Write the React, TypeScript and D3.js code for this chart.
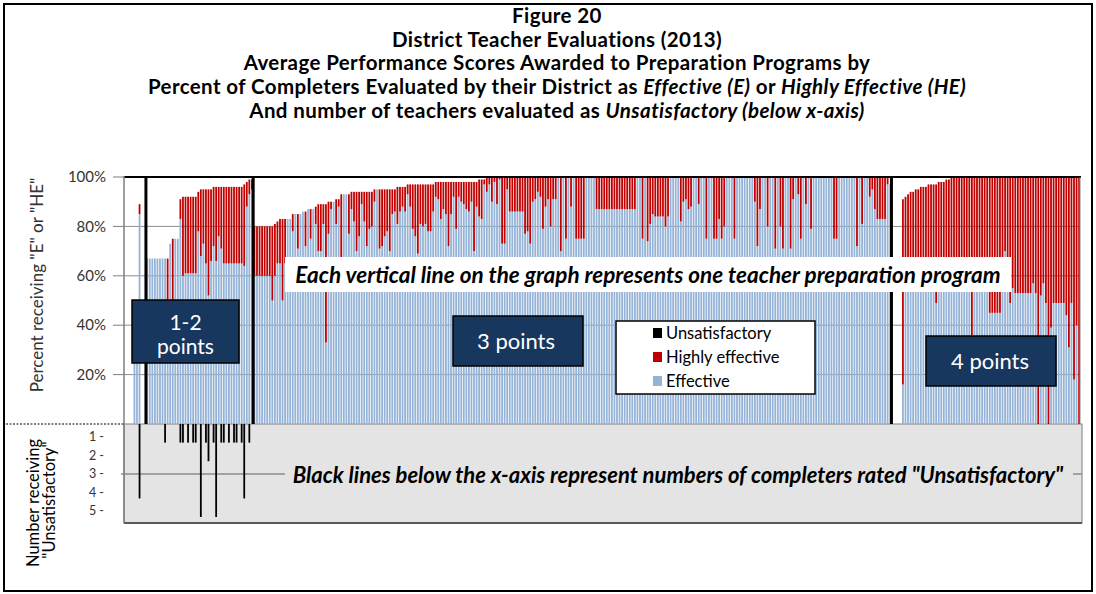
import React from 'react'
import * as d3 from 'd3'

// bars before the first separator
const preEffective = [0, 40, 40, 85, 0, 0]
const preHighly = [0, 0, 0, 4, 0, 0]
const preUnsat = [0, 0, 0, 4, 0, 0]

// 1-2 points
const effective12 = [67, 67, 67, 67, 67, 67, 67, 67, 40, 73, 45, 75, 75, 83, 60, 61, 61, 61, 61, 61,
  78, 68, 73, 65, 52, 66, 72, 66, 76, 71, 65, 65, 65, 65, 65, 65, 65, 65, 64, 88, 93, 95]
const highly12 = [0, 0, 0, 0, 0, 0, 0, 0, 27, 0, 30, 0, 0, 8, 32, 31, 31, 31, 31, 31,
  16, 27, 22, 30, 43, 29, 24, 30, 20, 25, 31, 31, 31, 31, 31, 31, 31, 31, 33, 10, 6, 4]
const unsat12 = [0, 0, 0, 0, 0, 0, 0, 1, 0, 0, 0, 0, 0, 1, 1, 0, 1, 0, 1, 1,
  0, 5, 0, 1, 2, 0, 1, 5, 0, 1, 1, 0, 1, 0, 1, 1, 0, 1, 4, 0, 1, 0]

// 3 points
const effective3 = [
  60, 60, 60, 60, 60, 60, 60, 50, 60, 65,
  65, 50, 65, 83, 83, 78, 85, 71, 85, 86,
  72, 87, 75, 87, 81, 70, 70, 81, 33, 77,
  87, 90, 81, 88, 67, 93, 93, 77, 87, 82,
  70, 76, 89, 82, 72, 79, 80, 90, 95, 71,
  72, 76, 78, 70, 85, 86, 81, 86, 88, 86,
  93, 88, 79, 76, 69, 81, 80, 81, 78, 78,
  86, 92, 91, 83, 87, 85, 72, 85, 92, 79,
  92, 90, 89, 87, 86, 90, 70, 88, 84, 83,
  97, 94, 97, 90, 98, 89, 99, 73, 73, 95,
  86, 86, 86, 86, 86, 86, 77, 78, 73, 90,
  91, 94, 92, 79, 88, 91, 80, 91, 91, 100,
  70, 100, 75, 100, 88, 100, 75, 75, 75, 75,
  100, 100, 100, 100, 87, 87, 87, 87, 87, 87,
  87, 87, 87, 87, 87, 87, 87, 87, 87, 87,
  100, 100, 75, 100, 74, 81, 85, 84, 84, 84,
  84, 80, 84, 100, 100, 100, 100, 82, 90, 91,
  87, 88, 100, 100, 89, 100, 100, 75, 100, 100,
  75, 75, 83, 75, 80, 100, 100, 100, 75, 100,
  100, 100, 100, 100, 100, 100, 90, 72, 87, 100,
  100, 80, 100, 100, 71, 100, 80, 71, 100, 100,
  71, 91, 100, 93, 75, 100, 89, 100, 79, 100,
  100, 100, 100, 100, 100, 100, 100, 75, 75, 100,
  100, 100, 100, 100, 100, 100, 72, 100, 81, 100,
  100, 92, 95, 87, 83, 83, 83, 83, 97, 97
]
const highly3 = [
  20, 20, 20, 20, 20, 20, 20, 30, 21, 17,
  18, 33, 18, 0, 0, 7, 0, 14, 0, 0,
  14, 0, 12, 0, 7, 19, 19, 8, 56, 13,
  3, 0, 10, 3, 26, 0, 0, 16, 7, 12,
  24, 18, 5, 12, 22, 15, 14, 5, 0, 24,
  23, 19, 17, 25, 10, 9, 15, 10, 8, 10,
  4, 9, 18, 21, 28, 16, 17, 16, 19, 19,
  11, 6, 7, 15, 11, 13, 26, 13, 6, 19,
  6, 8, 9, 11, 12, 8, 28, 10, 15, 16,
  2, 6, 3, 10, 2, 11, 1, 27, 27, 5,
  14, 14, 14, 14, 14, 14, 23, 22, 27, 10,
  9, 6, 8, 21, 12, 9, 20, 9, 9, 0,
  30, 0, 25, 0, 12, 0, 25, 25, 25, 25,
  0, 0, 0, 0, 13, 13, 13, 13, 13, 13,
  13, 13, 13, 13, 13, 13, 13, 13, 13, 13,
  0, 0, 25, 0, 26, 19, 15, 16, 16, 16,
  16, 20, 16, 0, 0, 0, 0, 18, 10, 9,
  13, 12, 0, 0, 11, 0, 0, 25, 0, 0,
  25, 25, 17, 25, 20, 0, 0, 0, 25, 0,
  0, 0, 0, 0, 0, 0, 10, 28, 13, 0,
  0, 20, 0, 0, 29, 0, 20, 29, 0, 0,
  29, 9, 0, 7, 25, 0, 11, 0, 21, 0,
  0, 0, 0, 0, 0, 0, 0, 25, 25, 0,
  0, 0, 0, 0, 0, 0, 28, 0, 19, 0,
  0, 8, 5, 13, 17, 17, 17, 17, 3, 0
]

// 4 points
const effective4 = [
  0, 0, 0, 0, 16, 58, 58, 58, 58, 58,
  58, 58, 58, 58, 58, 58, 58, 49, 58, 58,
  58, 58, 58, 58, 58, 58, 58, 58, 58, 58,
  58, 36, 58, 58, 58, 58, 58, 58, 45, 45,
  45, 45, 45, 55, 70, 55, 49, 55, 53, 53,
  53, 53, 53, 53, 53, 57, 53, 0, 52, 57,
  49, 0, 39, 49, 49, 49, 49, 49, 44, 31,
  49, 18, 40, 0
]
const highly4 = [
  0, 0, 0, 0, 75, 34, 35, 36, 36, 37,
  37, 38, 38, 38, 39, 39, 39, 48, 40, 40,
  40, 41, 41, 42, 42, 42, 42, 42, 42, 42,
  42, 64, 42, 42, 42, 42, 42, 42, 55, 55,
  55, 55, 55, 45, 30, 45, 51, 45, 47, 47,
  47, 47, 47, 47, 47, 43, 47, 100, 48, 43,
  51, 100, 61, 51, 51, 51, 51, 51, 56, 69,
  51, 82, 60, 100
]

const yTicks = [0.2, 0.4, 0.6, 0.8, 1.0]
const unsatTicks = [1, 2, 3, 4, 5]
const legendItems = ['Unsatisfactory', 'Highly effective', 'Effective']

const FONT = "Lato, 'Open Sans', sans-serif"
const BLUE = '#95b3d7'
const RED = '#c00000'
const NAVY = '#17375e'

const App = () => {
  const effective = [...preEffective, ...effective12, ...effective3, ...effective4]
  const highly = [...preHighly, ...highly12, ...highly3, ...highly4]
  const unsat = [...preUnsat, ...unsat12, ...new Array(effective3.length + effective4.length).fill(0)]
  const n = effective.length
  const bounds = [preEffective.length, preEffective.length + effective12.length,
    preEffective.length + effective12.length + effective3.length]
  const legendColors = ['#000', RED, BLUE]

  const x = d3.scaleBand<number>().domain(d3.range(n)).range([131, 1080]).paddingInner(0.3)
  const y = d3.scaleLinear().domain([0, 1]).range([424, 177])
  const yU = d3.scaleLinear().domain([0, 5]).range([424, 517])
  const bw = x.bandwidth()
  const gap = x.step() - bw

  return (
    <svg width={1096} height={594} style={{ display: 'block', fontFamily: FONT }}>
      <style>{'body{margin:0}'}</style>
      <rect x={0} y={0} width={1096} height={594} fill='white' />
      <rect x={4} y={4} width={1088} height={587} fill='none' stroke='#000' strokeWidth={2} />

      {/* title */}
      <g fontWeight='bold' fontSize={20.5} letterSpacing={0.4} textAnchor='middle' fill='#000'>
        <text x={557} y={16} dy='0.35em'>Figure 20</text>
        <text x={557} y={40} dy='0.35em'>District Teacher Evaluations  (2013)</text>
        <text x={557} y={63} dy='0.35em'>Average Performance Scores Awarded to Preparation Programs by</text>
        <text x={557} y={87} dy='0.35em'>Percent of Completers Evaluated  by their District as <tspan fontStyle='italic'>Effective (E)</tspan> or <tspan fontStyle='italic'>Highly Effective (HE)</tspan></text>
        <text x={557} y={111} dy='0.35em'>And number of teachers evaluated as <tspan fontStyle='italic'>Unsatisfactory (below x-axis)</tspan></text>
      </g>

      {/* lower grey panel */}
      <rect x={124} y={424} width={958} height={99} fill='#e4e4e4' stroke='#7f7f7f' strokeWidth={1} />
      <line x1={124} x2={1082} y1={523} y2={523} stroke='#595959' strokeWidth={2} />
      <line x1={121} x2={1082} y1={474} y2={474} stroke='#8c8c8c' strokeWidth={1.5} />

      {/* gridlines */}
      {yTicks.slice(0, 4).map(t => (
        <line key={t} x1={124} x2={1080} y1={y(t)} y2={y(t)} stroke='#8c8c8c' strokeWidth={1} />
      ))}

      {/* bars */}
      {effective.map((e, i) => (
        <g key={i}>
          {e > 0 && <rect x={x(i)} y={y(e / 100)} width={bw} height={y(0) - y(e / 100)} fill={BLUE} />}
          {highly[i] > 0 && <rect x={x(i)} y={y((e + highly[i]) / 100)} width={bw} height={y(e / 100) - y((e + highly[i]) / 100)} fill={RED} />}
          {unsat[i] > 0 && <rect x={x(i)} y={424} width={bw} height={yU(unsat[i]) - 424} fill='#000' />}
        </g>
      ))}

      {/* group separators */}
      {bounds.map(b => (
        <line key={b} x1={(x(b) ?? 0) - gap / 2} x2={(x(b) ?? 0) - gap / 2} y1={177} y2={424} stroke='#000' strokeWidth={3} />
      ))}

      {/* plot frame and axes */}
      <line x1={124} x2={1081} y1={177} y2={177} stroke='#000' strokeWidth={2} />
      <line x1={1080} x2={1080} y1={177} y2={424} stroke='#8c8c8c' strokeWidth={1} />
      <line x1={124} x2={124} y1={176} y2={523} stroke='#7f7f7f' strokeWidth={1.5} />
      {yTicks.map(t => (
        <g key={t}>
          <line x1={113} x2={124} y1={y(t)} y2={y(t)} stroke='#7f7f7f' strokeWidth={1} />
          <text x={106} y={y(t)} dy='0.35em' textAnchor='end' fontSize={15} fill='#333'>{d3.format('.0%')(t)}</text>
        </g>
      ))}
      <line x1={6} x2={124} y1={424} y2={424} stroke='#000' strokeWidth={1} strokeDasharray='2,1.5' />
      {unsatTicks.map(k => (
        <text key={k} x={104} y={yU(k) - 6} dy='0.35em' textAnchor='end' fontSize={12.5} fill='#333'>{k} -</text>
      ))}

      {/* axis titles */}
      <text transform='translate(43,285) rotate(-90)' textAnchor='middle' fontSize={17} fill='#333'>Percent receiving "E" or "HE"</text>
      <text transform='translate(39,503) rotate(-90)' textAnchor='middle' fontSize={16.5} fill='#000'>Number receiving</text>
      <text transform='translate(55,500) rotate(-90)' textAnchor='middle' fontSize={16.5} fill='#000'>"Unsatisfactory"</text>

      {/* annotation boxes */}
      <rect x={285} y={257} width={726} height={35} fill='white' />
      <text x={648} y={275} dy='0.35em' textAnchor='middle' fontSize={22.5} fontWeight='bold' fontStyle='italic'>Each vertical line on the graph represents one teacher preparation program</text>

      <rect x={285} y={461} width={788} height={28} fill='#e4e4e4' />
      <text x={678} y={475} dy='0.35em' textAnchor='middle' fontSize={22} fontWeight='bold' fontStyle='italic'>Black lines below the x-axis represent numbers of completers rated "Unsatisfactory"</text>

      <rect x={132} y={300} width={107} height={63} fill={NAVY} stroke='#000' strokeWidth={1.5} />
      <text x={185.5} y={323} dy='0.35em' textAnchor='middle' fontSize={21} fill='white'>1-2</text>
      <text x={185.5} y={347} dy='0.35em' textAnchor='middle' fontSize={21} fill='white'>points</text>

      <rect x={453} y={316} width={130} height={50} fill={NAVY} stroke='#000' strokeWidth={1.5} />
      <text x={516} y={341} dy='0.35em' textAnchor='middle' fontSize={22} fill='white'>3 points</text>

      <rect x={926} y={336} width={130} height={50} fill={NAVY} stroke='#000' strokeWidth={1.5} />
      <text x={990} y={361} dy='0.35em' textAnchor='middle' fontSize={22} fill='white'>4 points</text>

      {/* legend */}
      <rect x={616} y={321} width={199} height={73} fill='white' stroke='#000' strokeWidth={1.5} />
      {legendItems.map((label, i) => (
        <g key={label} transform={`translate(653,${333 + i * 24})`}>
          <rect x={0} y={-5} width={9} height={10} fill={legendColors[i]} />
          <text x={13} y={0} dy='0.35em' fontSize={16.5} fill='#000'>{label}</text>
        </g>
      ))}
    </svg>
  )
}

export default App
